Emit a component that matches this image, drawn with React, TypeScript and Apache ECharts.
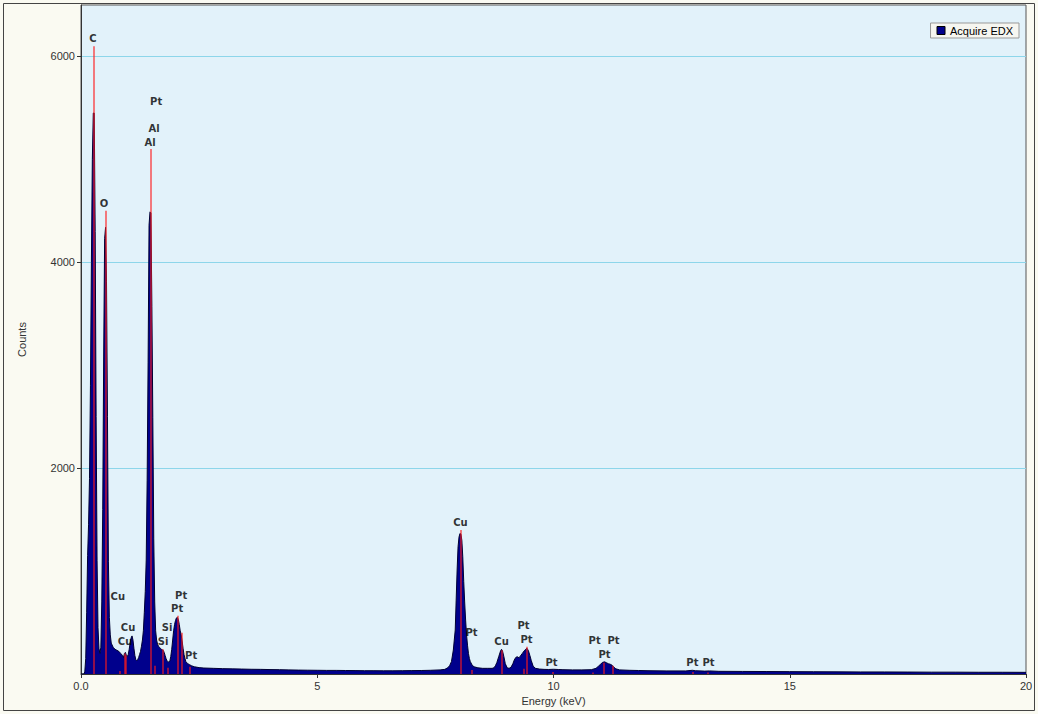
import React, { useEffect, useRef } from "react";
import * as echarts from "echarts";

// Spectrum channels (keV) and counts
const energy = [
  0.0, 0.06, 0.08, 0.1, 0.12, 0.14, 0.16, 0.18, 0.2, 0.22, 0.24, 0.26, 0.28, 0.3, 0.32, 0.34, 0.36, 0.38,
  0.4, 0.42, 0.44, 0.46, 0.48, 0.5, 0.52, 0.54, 0.56, 0.58, 0.6, 0.62, 0.64, 0.68, 0.72, 0.76, 0.8, 0.84,
  0.88, 0.9, 0.92, 0.94, 0.96, 0.98, 1.0, 1.02, 1.04, 1.06, 1.08, 1.1, 1.12, 1.14, 1.16, 1.18, 1.2, 1.22,
  1.24, 1.26, 1.28, 1.3, 1.32, 1.34, 1.36, 1.38, 1.4, 1.42, 1.44, 1.46, 1.48, 1.5, 1.52, 1.54, 1.56, 1.58,
  1.6, 1.62, 1.64, 1.66, 1.68, 1.7, 1.72, 1.74, 1.76, 1.78, 1.8, 1.82, 1.84, 1.86, 1.88, 1.9, 1.92, 1.94,
  1.96, 1.98, 2.0, 2.02, 2.04, 2.06, 2.08, 2.1, 2.12, 2.14, 2.16, 2.18, 2.2, 2.22, 2.26, 2.3, 2.34, 2.4,
  2.5, 2.6, 2.8, 3.0, 3.2, 3.4, 3.6, 3.8, 4.0, 4.2, 4.4, 4.6, 4.8, 5.0, 5.2, 5.4, 5.6, 5.8, 6.0, 6.2, 6.4,
  6.6, 6.8, 7.0, 7.2, 7.4, 7.6, 7.7, 7.76, 7.8, 7.84, 7.88, 7.9, 7.92, 7.94, 7.96, 7.98, 8.0, 8.02, 8.04,
  8.06, 8.08, 8.1, 8.12, 8.14, 8.16, 8.18, 8.2, 8.22, 8.24, 8.28, 8.32, 8.4, 8.5, 8.6, 8.7, 8.74, 8.77,
  8.8, 8.84, 8.88, 8.9, 8.92, 8.95, 8.98, 9.02, 9.06, 9.1, 9.14, 9.17, 9.2, 9.23, 9.27, 9.3, 9.34, 9.38,
  9.41, 9.44, 9.47, 9.5, 9.53, 9.57, 9.62, 9.7, 9.8, 9.9, 10.0, 10.1, 10.2, 10.4, 10.6, 10.8, 10.9, 10.95,
  11.0, 11.04, 11.08, 11.12, 11.16, 11.2, 11.24, 11.28, 11.32, 11.4, 11.6, 11.8, 12.0, 12.4, 12.8, 12.94,
  13.0, 13.2, 13.3, 13.5, 14.0, 14.5, 15.0, 15.5, 16.0, 16.5, 17.0, 17.5, 18.0, 18.5, 19.0, 19.5, 20.0,
];
const counts = [
  0, 0, 20, 150, 600, 1150, 1450, 1900, 2800, 4000, 5000, 5450, 5450, 4300, 2500, 1100, 450, 250,
  200, 260, 700, 1600, 3080, 4230, 4340, 3810, 2500, 1090, 550, 380, 300, 260, 240, 230, 220, 200,
  180, 160, 200, 210, 180, 170, 190, 240, 300, 350, 370, 330, 250, 180, 140, 130, 140, 160,
  190, 220, 270, 330, 420, 600, 800, 1107, 1883, 3030, 4360, 4490, 4480, 3573, 2490, 1313, 700, 420,
  330, 290, 270, 260, 250, 240, 235, 230, 210, 180, 150, 130, 120, 115, 125, 170, 240, 330,
  420, 480, 520, 545, 550, 530, 480, 420, 380, 320, 250, 190, 150, 120, 100, 90, 80, 70,
  62, 58, 55, 52, 50, 48, 46, 45, 43, 42, 40, 38, 37, 36, 35, 35, 34, 33, 32, 32, 31,
  31, 32, 33, 34, 36, 40, 45, 60, 80, 120, 233, 330, 427, 718, 1010, 1236, 1330, 1365, 1360,
  1300, 1139, 900, 700, 524, 380, 280, 200, 150, 120, 85, 70, 60, 55, 55, 55, 60, 80,
  110, 168, 225, 240, 225, 168, 100, 60, 55, 65, 100, 136, 160, 168, 158, 175, 200, 225,
  240, 250, 225, 180, 130, 75, 55, 48, 45, 44, 46, 44, 42, 40, 40, 42, 55, 75,
  97, 113, 118, 110, 100, 95, 85, 65, 50, 40, 36, 34, 32, 30, 30, 36,
  32, 28, 30, 26, 25, 24, 23, 22, 21, 20, 20, 19, 18, 18, 17, 17, 16,
];

// Element marker lines (keV) and their heights (counts)
const markerEnergy = [0.277, 0.525, 0.811, 0.93, 0.95, 1.486, 1.557, 1.74, 1.836, 2.048, 2.127, 2.302,
  8.04, 8.268, 8.904, 9.36, 9.442, 9.975, 10.84, 11.07, 11.25, 12.94, 13.27];
const markerTop = [6100, 4500, 30, 200, 180, 5100, 80, 240, 60, 565, 400, 70,
  1400, 40, 230, 50, 265, 20, 15, 110, 80, 20, 15];

// Peak labels: name, energy, count position of the label
const labelNames = ["C", "Pt", "Al", "Al", "O", "Cu", "Cu", "Cu", "Si", "Si", "Pt", "Pt", "Pt",
  "Cu", "Pt", "Cu", "Pt", "Pt", "Pt", "Pt", "Pt", "Pt", "Pt", "Pt"];
const labelEnergy = [0.254, 1.59, 1.547, 1.462, 0.487, 0.78, 0.996, 0.932, 1.822, 1.737, 2.119, 2.034, 2.331,
  8.03, 8.263, 8.9, 9.364, 9.428, 9.958, 10.87, 11.271, 11.08, 12.94, 13.28];
const labelCount = [6175, 5560, 5300, 5165, 4575, 750, 456, 320, 456, 320, 767, 641, 184,
  1476, 408, 320, 476, 340, 107, 330, 330, 194, 107, 107];

const xTicks = [0, 5, 10, 15, 20];
const yTicks = [2000, 4000, 6000];

export default function App() {
  const ref = useRef<HTMLDivElement>(null);
  useEffect(() => {
    if (!ref.current) return;
    const chart = echarts.init(ref.current, undefined, { renderer: "svg" });
    const spectrum = energy.map((e, i) => [e, counts[i]]);
    const markLines = markerEnergy.map((e, i) => [
      { coord: [e, 0] },
      { coord: [e, markerTop[i]] },
    ]);
    const labels = labelNames.map((n, i) => ({ name: n, value: [labelEnergy[i], labelCount[i]] }));
    const axisFont = { fontFamily: "Liberation Sans", fontSize: 11, color: "#333" };
    chart.setOption({
      animation: false,
      backgroundColor: "#fafaf2",
      graphic: [
        {
          type: "rect",
          shape: { x: 3.5, y: 3.5, width: 1031, height: 707 },
          style: { fill: "none", stroke: "#444", lineWidth: 1 },
          z: -1,
          silent: true,
        },
      ],
      grid: {
        left: 81,
        right: 12,
        top: 5,
        bottom: 40,
        show: true,
        backgroundColor: "#e2f2fa",
        borderColor: "#555",
        borderWidth: 1,
      },
      legend: {
        data: ["Acquire EDX"],
        right: 19,
        top: 23,
        icon: "rect",
        itemWidth: 8,
        itemHeight: 8,
        padding: [2, 6],
        backgroundColor: "#f6f6f0",
        borderColor: "#999",
        borderWidth: 1,
        textStyle: { fontFamily: "Liberation Sans", fontSize: 11, color: "#000" },
        itemStyle: { color: "#00008c", borderColor: "#000", borderWidth: 1 },
      },
      xAxis: {
        type: "value",
        min: 0,
        max: 20,
        interval: 5,
        name: "Energy (keV)",
        nameLocation: "middle",
        nameGap: 21,
        nameTextStyle: axisFont,
        axisLine: { lineStyle: { color: "#333" } },
        axisTick: { show: true, length: 4, lineStyle: { color: "#333" }, customValues: xTicks },
        axisLabel: {
          ...axisFont,
          margin: 6,
          customValues: xTicks,
          formatter: (v: number) => (v === 0 ? "0.0" : String(v)),
        },
        splitLine: { show: false },
      },
      yAxis: {
        type: "value",
        min: 0,
        max: 6500,
        interval: 2000,
        name: "Counts",
        nameLocation: "middle",
        nameGap: 54,
        nameTextStyle: axisFont,
        axisLine: { show: true, lineStyle: { color: "#333" } },
        axisTick: { show: true, length: 4, lineStyle: { color: "#333" }, customValues: yTicks },
        axisLabel: {
          ...axisFont,
          margin: 6,
          customValues: yTicks,
          formatter: (v: number) => String(v),
        },
        splitLine: { show: true, lineStyle: { color: "#8dd6ea", width: 1 } },
      },
      series: [
        {
          name: "Acquire EDX",
          type: "line",
          data: spectrum,
          showSymbol: false,
          symbol: "none",
          lineStyle: { color: "#000033", width: 1 },
          itemStyle: { color: "#00008c" },
          areaStyle: { color: "#00008c", opacity: 1 },
          z: 2,
        },
        {
          name: "markers",
          type: "scatter",
          data: labels,
          symbolSize: 1,
          itemStyle: { color: "rgba(0,0,0,0)" },
          label: {
            show: true,
            position: "inside",
            formatter: "{b}",
            color: "#000",
            fontFamily: "DejaVu Sans",
            fontWeight: "bold",
            fontSize: 10,
          },
          markLine: {
            silent: true,
            symbol: ["none", "none"],
            label: { show: false },
            lineStyle: { color: "#ff1a1a", width: 1.5, type: "solid", opacity: 0.75 },
            data: markLines,
          },
          z: 3,
        },
      ],
    });
    return () => chart.dispose();
  }, []);
  return (
    <div
      ref={ref}
      style={{ position: "fixed", left: 0, top: 0, width: 1038, height: 714 }}
    />
  );
}
